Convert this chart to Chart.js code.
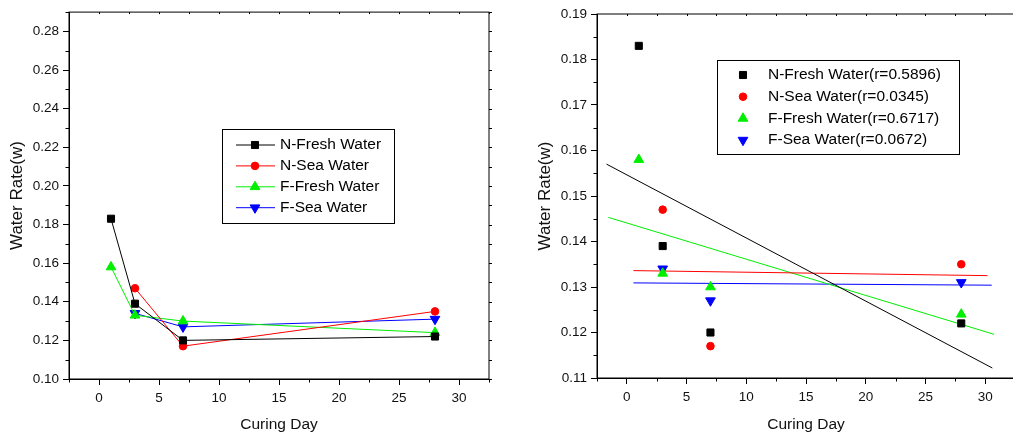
<!DOCTYPE html>
<html lang="en">
<head>
<meta charset="UTF-8">
<title>Water Rate vs Curing Day</title>
<script src="https://cdn.jsdelivr.net/npm/chart.js@4"></script>
<style>
    html, body { margin: 0; padding: 0; background: #fff; overflow: hidden; }
    #left, #right { position: absolute; top: 0; height: 434px; }
    #left { left: 0; width: 500px; }
    #right { left: 510px; width: 522px; }
</style>
</head>
<body>
<div id="left"><canvas id="lineChart"></canvas></div>
<div id="right"><canvas id="fitChart"></canvas></div>
<script>
// curing days and measured water rate for each mix
const days = [1, 3, 7, 28];
const nFresh = [0.183, 0.139, 0.120, 0.122];
const nSea = [null, 0.147, 0.117, 0.135];
const fFresh = [0.158, 0.133, 0.130, 0.124];
const fSea = [null, 0.134, 0.127, 0.131];

const names = ['N-Fresh Water', 'N-Sea Water', 'F-Fresh Water', 'F-Sea Water'];
const rValues = ['0.5896', '0.0345', '0.6717', '0.0672'];

// end points of the linear fits (right panel)
const fitNFreshX = [-1.7, 30.6];
const fitNFreshY = [0.157, 0.1122];
const fitNSeaX = [0.55, 30.2];
const fitNSeaY = [0.1336, 0.1325];
const fitFFreshX = [-1.55, 30.75];
const fitFFreshY = [0.1453, 0.1196];
const fitFSeaX = [0.55, 30.55];
const fitFSeaY = [0.1309, 0.1304];

const xTicks = [0, 5, 10, 15, 20, 25, 30];
const yTicksLeft = [0.10, 0.12, 0.14, 0.16, 0.18, 0.20, 0.22, 0.24, 0.26, 0.28];
const yTicksRight = [0.11, 0.12, 0.13, 0.14, 0.15, 0.16, 0.17, 0.18, 0.19];

const FONT = "'Liberation Sans', Arial, sans-serif";
const colors = ['#000000', '#ff0000', '#00ee00', '#0000ff'];
const styles = [
    { pointStyle: 'rect', pointRadius: 5, rotation: 0 },
    { pointStyle: 'circle', pointRadius: 3.8, rotation: 0 },
    { pointStyle: 'triangle', pointRadius: 5.6, rotation: 0 },
    { pointStyle: 'triangle', pointRadius: 5.6, rotation: 180 }
];

function toPoints(xs, ys) {
    const pts = [];
    xs.forEach((x, i) => { if (ys[i] !== null) pts.push({ x: x, y: ys[i] }); });
    return pts;
}

// plot frame plus minor ticks (Origin style)
const frame = {
    id: 'frame',
    afterDatasetsDraw(chart, args, o) {
        const { ctx, chartArea: a, scales: { x, y } } = chart;
        ctx.save();
        ctx.strokeStyle = '#000';
        ctx.lineWidth = 1;
        ctx.strokeRect(a.left, a.top, a.right - a.left, a.bottom - a.top);
        ctx.beginPath();
        for (let v = Math.ceil(x.min / o.xMinor) * o.xMinor; v <= x.max + 1e-9; v += o.xMinor) {
            const px = Math.round(x.getPixelForValue(v)) + 0.5;
            const major = Math.abs(v / o.xMajor - Math.round(v / o.xMajor)) < 1e-6;
            if (!major) { ctx.moveTo(px, a.bottom); ctx.lineTo(px, a.bottom + 3.5); }
            ctx.moveTo(px, a.top); ctx.lineTo(px, a.top + 2);
        }
        for (let v = y.min; v <= y.max + 1e-9; v += o.yMinor) {
            const py = Math.round(y.getPixelForValue(v)) + 0.5;
            const major = Math.abs((v - y.min) / o.yMajor - Math.round((v - y.min) / o.yMajor)) < 1e-6;
            if (!major) { ctx.moveTo(a.left, py); ctx.lineTo(a.left - 3.5, py); }
            ctx.moveTo(a.right, py); ctx.lineTo(a.right + 3, py);
        }
        ctx.stroke();
        ctx.restore();
    }
};

// legend box drawn inside the plot area
const boxLegend = {
    id: 'boxLegend',
    afterDraw(chart, args, o) {
        const ctx = chart.ctx;
        ctx.save();
        ctx.lineWidth = 1;
        ctx.strokeStyle = '#000';
        ctx.strokeRect(o.x + 0.5, o.y + 0.5, o.w, o.h);
        ctx.font = o.font;
        ctx.textBaseline = 'middle';
        for (let i = 0; i < o.count; i++) {
            const ds = chart.data.datasets[i];
            const cy = o.rowY + i * o.rowH;
            ctx.strokeStyle = ds.borderColor;
            ctx.fillStyle = ds.backgroundColor;
            if (o.line) {
                ctx.beginPath();
                ctx.moveTo(o.lineX0, cy);
                ctx.lineTo(o.lineX1, cy);
                ctx.lineWidth = 1;
                ctx.stroke();
            }
            Chart.helpers.drawPoint(ctx, {
                pointStyle: ds.pointStyle,
                radius: ds.pointRadius,
                rotation: ds.pointRotation,
                borderWidth: 1
            }, o.markX, cy);
            ctx.fillStyle = '#000';
            ctx.fillText(ds.label, o.textX, cy);
        }
        ctx.restore();
    }
};

function axes(yMin, yMax, yTicks, yWidth, xHeight, titlePad) {
    return {
        x: {
            type: 'linear',
            min: -2.5,
            max: 32.5,
            afterBuildTicks: s => { s.ticks = xTicks.map(v => ({ value: v })); },
            afterFit: s => { s.height = xHeight; },
            grid: { drawOnChartArea: false, drawTicks: true, tickLength: 6, color: '#000' },
            border: { display: true, color: '#000', width: 1 },
            ticks: { color: '#111', padding: 5, font: { family: FONT, size: 13.5 }, maxRotation: 0 },
            title: { display: true, text: 'Curing Day', color: '#111', padding: 0, font: { family: FONT, size: 15.5 } }
        },
        y: {
            type: 'linear',
            min: yMin,
            max: yMax,
            afterBuildTicks: s => { s.ticks = yTicks.map(v => ({ value: v })); },
            afterFit: s => { s.width = yWidth; },
            grid: { drawOnChartArea: false, drawTicks: true, tickLength: 6, color: '#000' },
            border: { display: true, color: '#000', width: 1 },
            ticks: { color: '#111', padding: 4, font: { family: FONT, size: 13.5 }, callback: v => v.toFixed(2) },
            title: { display: true, text: 'Water Rate(w)', color: '#111', padding: { top: titlePad, bottom: 0 }, font: { family: FONT, size: 17 } }
        }
    };
}

// left panel: measured values joined by lines
const seriesY = [nFresh, nSea, fFresh, fSea];
new Chart(document.getElementById('lineChart'), {
    type: 'line',
    data: {
        datasets: seriesY.map((ys, i) => ({
            label: names[i],
            data: toPoints(days, ys),
            borderColor: colors[i],
            backgroundColor: colors[i],
            borderWidth: 1,
            tension: 0,
            pointStyle: styles[i].pointStyle,
            pointRadius: styles[i].pointRadius,
            pointRotation: styles[i].rotation,
            pointBorderWidth: 1
        }))
    },
    options: {
        responsive: true,
        maintainAspectRatio: false,
        animation: false,
        layout: { padding: { left: 0, right: 11, top: 7, bottom: 0 } },
        scales: axes(0.10, 0.29, yTicksLeft, 69, 55, 7),
        plugins: {
            legend: { display: false },
            tooltip: { enabled: false },
            frame: { xMinor: 2.5, xMajor: 5, yMinor: 0.01, yMajor: 0.02 },
            boxLegend: {
                x: 222, y: 129, w: 172, h: 94,
                rowY: 145, rowH: 20.9, count: 4, line: true,
                lineX0: 236, lineX1: 275, markX: 255, textX: 280,
                font: '15.5px ' + FONT
            }
        }
    },
    plugins: [frame, boxLegend]
});

// right panel: scatter points with linear fits
const fits = [
    [fitNFreshX, fitNFreshY],
    [fitNSeaX, fitNSeaY],
    [fitFFreshX, fitFFreshY],
    [fitFSeaX, fitFSeaY]
];
const scatterSets = seriesY.map((ys, i) => ({
    type: 'scatter',
    label: names[i] + '(r=' + rValues[i] + ')',
    data: toPoints(days, ys),
    borderColor: colors[i],
    backgroundColor: colors[i],
    pointStyle: styles[i].pointStyle,
    pointRadius: styles[i].pointRadius,
    pointRotation: styles[i].rotation,
    pointBorderWidth: 1
}));
const fitSets = fits.map((f, i) => ({
    type: 'line',
    label: 'fit ' + names[i],
    data: toPoints(f[0], f[1]),
    borderColor: colors[i],
    borderWidth: 1,
    pointRadius: 0,
    tension: 0
}));

new Chart(document.getElementById('fitChart'), {
    type: 'scatter',
    data: { datasets: scatterSets.concat(fitSets) },
    options: {
        responsive: true,
        maintainAspectRatio: false,
        animation: false,
        layout: { padding: { left: 0, right: 17, top: 14, bottom: 0 } },
        scales: axes(0.11, 0.19, yTicksRight, 87, 56, 25),
        plugins: {
            legend: { display: false },
            tooltip: { enabled: false },
            frame: { xMinor: 2.5, xMajor: 5, yMinor: 0.005, yMajor: 0.01 },
            boxLegend: {
                x: 207, y: 60, w: 242, h: 94,
                rowY: 75, rowH: 21.7, count: 4, line: false,
                markX: 233, textX: 258,
                font: '15.5px ' + FONT
            }
        }
    },
    plugins: [frame, boxLegend]
});
</script>
</body>
</html>
